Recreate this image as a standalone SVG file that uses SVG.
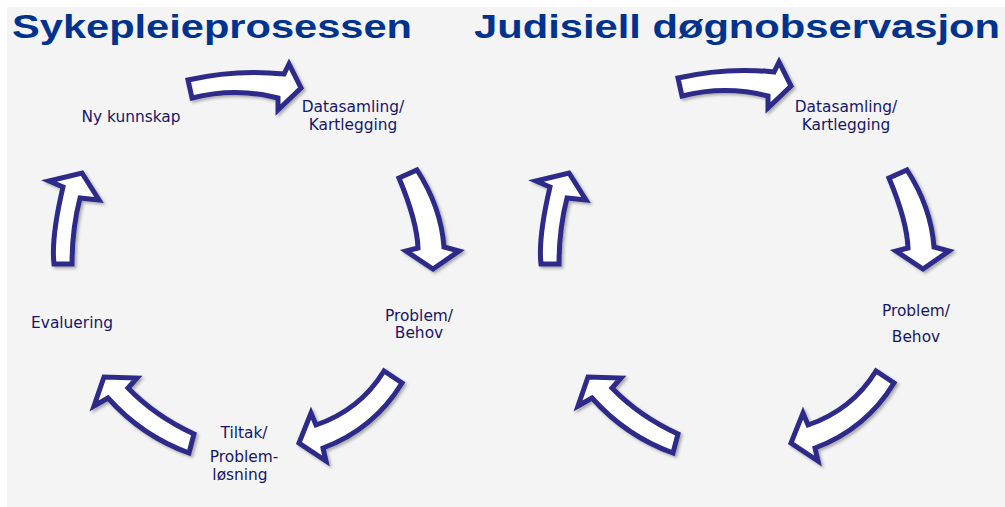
<svg xmlns="http://www.w3.org/2000/svg" xmlns:xlink="http://www.w3.org/1999/xlink" width="1005" height="507" viewBox="0 0 1005 507">
<defs>
<filter id="sh" x="-20%" y="-20%" width="140%" height="140%">
<feDropShadow dx="2" dy="2" stdDeviation="1.5" flood-color="#000" flood-opacity="0.3"/>
</filter>
<style>
.arr{fill:#ffffff;stroke:#2d2c8a;stroke-width:5;stroke-linejoin:miter;stroke-miterlimit:6;filter:url(#sh)}
.title{font-family:"Liberation Sans",Arial,sans-serif;font-weight:bold;font-size:34px;fill:#00338e}
.lbl{font-family:"DejaVu Sans","Liberation Sans",sans-serif;font-size:15.4px;fill:#16166b}
</style>
<path id="a1" class="arr" d="M188,80 Q236,69 284,74 L289,64 L301,88 L278,110 L278,98 Q235,87 192,98 Z"/>
<path id="a2" class="arr" d="M399,178 L417,170 Q441,207 444,247 L459,251 L433,269 L406,251 L418,248 Q417,221 399,178 Z"/>
<path id="a3" class="arr" d="M384,371 Q360,410 316,425 L311,413 L299,443 L326,461 L323,448 Q374,429 402,383 Z"/>
<path id="a4" class="arr" d="M194,434 Q155,416 128,388 L137,378 L104,377 L94,406 L108,398 Q142,436 189,453 Z"/>
<path id="a5" class="arr" d="M54,264 L72,264 Q72,229 80,198 L99,200 L82,173 L49,181 L63,187 Q51,238 54,264 Z"/>
</defs>
<rect x="7" y="7" width="998" height="500" fill="#f4f4f4"/>
<g id="titles">
<text class="title" x="12" y="38" textLength="400" lengthAdjust="spacingAndGlyphs">Sykepleieprosessen</text>
<text class="title" x="474" y="38" textLength="526" lengthAdjust="spacingAndGlyphs">Judisiell døgnobservasjon</text>
</g>
<g id="connectors">
<use xlink:href="#a1"/>
<use xlink:href="#a2"/>
<use xlink:href="#a3"/>
<use xlink:href="#a4"/>
<use xlink:href="#a5"/>
<use xlink:href="#a1" transform="translate(490,-2)"/>
<use xlink:href="#a2" transform="translate(490,0)"/>
<use xlink:href="#a3" transform="translate(492,0)"/>
<use xlink:href="#a4" transform="translate(484,0)"/>
<use xlink:href="#a5" transform="translate(487,0)"/>
</g>
<g id="n-ny-kunnskap"><text class="lbl" x="131" y="122" text-anchor="middle">Ny kunnskap</text></g>
<g id="n-datasamling-1"><text class="lbl" text-anchor="middle"><tspan x="353" y="112">Datasamling/</tspan><tspan x="353" y="130">Kartlegging</tspan></text></g>
<g id="n-problem-1"><text class="lbl" text-anchor="middle"><tspan x="419" y="321">Problem/</tspan><tspan x="419" y="338">Behov</tspan></text></g>
<g id="n-tiltak"><text class="lbl" text-anchor="middle"><tspan x="244" y="438">Tiltak/</tspan><tspan x="244" y="462">Problem-</tspan><tspan x="240" y="480">løsning</tspan></text></g>
<g id="n-evaluering"><text class="lbl" x="72" y="328" text-anchor="middle">Evaluering</text></g>
<g id="n-datasamling-2"><text class="lbl" text-anchor="middle"><tspan x="846" y="112">Datasamling/</tspan><tspan x="846" y="130">Kartlegging</tspan></text></g>
<g id="n-problem-2"><text class="lbl" text-anchor="middle"><tspan x="916" y="316">Problem/</tspan><tspan x="916" y="342">Behov</tspan></text></g>
</svg>
